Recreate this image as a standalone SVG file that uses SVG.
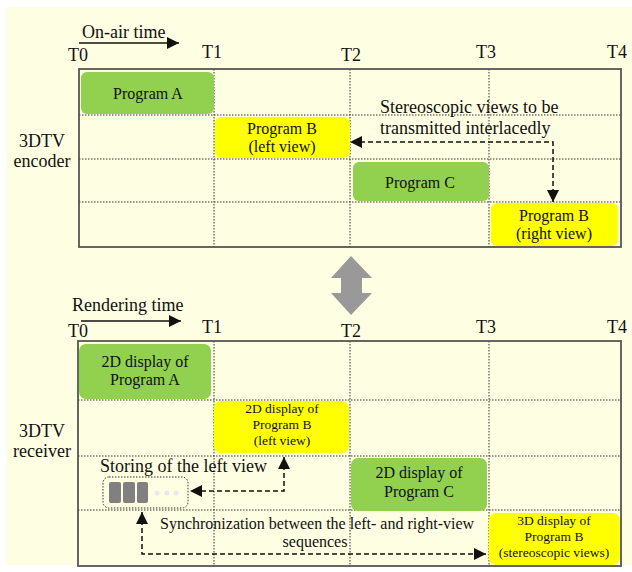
<svg xmlns="http://www.w3.org/2000/svg" width="632" height="572" viewBox="0 0 632 572">
<style>
text{font-family:'Liberation Serif','Times New Roman',serif;fill:#111;}
.t18{font-size:18px;}
.t16{font-size:16px;}
.t13{font-size:13.5px;}
.c{text-anchor:middle;}
.frame{fill:none;stroke:#555;stroke-width:1.8;}
.grid{stroke:#333;stroke-width:1;stroke-dasharray:1.5 1.5;fill:none;}
.green{fill:#92D050;}
.yellow{fill:#FFFF00;}
.dash{fill:none;stroke:#111;stroke-width:1.5;stroke-dasharray:5 3;}
.solid{fill:none;stroke:#111;stroke-width:1.5;}
</style>
<defs>
<marker id="ah" viewBox="0 0 10 10" refX="10" refY="5" markerWidth="12" markerHeight="12" markerUnits="userSpaceOnUse" orient="auto-start-reverse">
<path d="M0,0 L10,5 L0,10 Z" fill="#111"/>
</marker>
<marker id="ahbig" viewBox="0 0 10 10" refX="10" refY="5" markerWidth="14" markerHeight="12" markerUnits="userSpaceOnUse" orient="auto">
<path d="M0,0 L10,5 L0,10 Z" fill="#111"/>
</marker>
</defs>
<rect x="6" y="7" width="626" height="558" fill="#FEFEE2"/>

<!-- top panel -->
<g id="top-axis">
<text class="t18" x="82" y="38">On-air time</text>
<line class="solid" x1="79" y1="43" x2="179" y2="43" marker-end="url(#ahbig)"/>
<text class="t18 c" x="78" y="61">T0</text>
<text class="t18 c" x="212" y="58">T1</text>
<text class="t18 c" x="351" y="61">T2</text>
<text class="t18 c" x="486" y="58">T3</text>
<text class="t18 c" x="617" y="58">T4</text>
</g>
<g id="top-grid">
<line class="grid" x1="79" y1="115" x2="621" y2="115"/>
<line class="grid" x1="79" y1="159" x2="621" y2="159"/>
<line class="grid" x1="79" y1="202" x2="621" y2="202"/>
<line class="grid" x1="214" y1="69" x2="214" y2="247"/>
<line class="grid" x1="350" y1="69" x2="350" y2="247"/>
<line class="grid" x1="489" y1="69" x2="489" y2="247"/>
<rect class="frame" x="79" y="69" width="542" height="178"/>
</g>
<g id="encoder-label">
<text class="t18 c" x="42" y="147">3DTV</text>
<text class="t18 c" x="42" y="167">encoder</text>
</g>
<g id="programA">
<rect class="green" x="81" y="72" width="133" height="42" rx="6"/>
<text class="t16 c" x="148" y="99">Program A</text>
</g>
<g id="programB-left">
<rect class="yellow" x="215" y="117" width="135" height="41" rx="6"/>
<text class="t16 c" x="282" y="134">Program B</text>
<text class="t16 c" x="282" y="152">(left view)</text>
</g>
<g id="programC">
<rect class="green" x="353" y="162" width="136" height="39" rx="6"/>
<text class="t16 c" x="420" y="188">Program C</text>
</g>
<g id="programB-right">
<rect class="yellow" x="491" y="203" width="127" height="43" rx="6"/>
<text class="t16 c" x="554" y="221">Program B</text>
<text class="t16 c" x="554" y="239">(right view)</text>
</g>
<g id="stereo-label">
<text class="t18" x="380" y="113">Stereoscopic views to be</text>
<text class="t18" x="380" y="134">transmitted interlacedly</text>
</g>

<!-- bottom panel -->
<g id="bottom-axis">
<text class="t18" x="72" y="311">Rendering time</text>
<line class="solid" x1="81" y1="321" x2="181" y2="321" marker-end="url(#ahbig)"/>
<text class="t18 c" x="78" y="337">T0</text>
<text class="t18 c" x="212" y="333">T1</text>
<text class="t18 c" x="351" y="337">T2</text>
<text class="t18 c" x="486" y="333">T3</text>
<text class="t18 c" x="617" y="333">T4</text>
</g>
<g id="bottom-grid">
<line class="grid" x1="78" y1="400" x2="621" y2="400"/>
<line class="grid" x1="78" y1="456" x2="621" y2="456"/>
<line class="grid" x1="78" y1="510" x2="621" y2="510"/>
<line class="grid" x1="214" y1="341" x2="214" y2="566"/>
<line class="grid" x1="350" y1="341" x2="350" y2="566"/>
<line class="grid" x1="489" y1="341" x2="489" y2="566"/>
<rect class="frame" x="78" y="341" width="543" height="225"/>
</g>
<g id="receiver-label">
<text class="t18 c" x="42" y="437">3DTV</text>
<text class="t18 c" x="42" y="457">receiver</text>
</g>
<g id="display-A">
<rect class="green" x="79" y="344" width="132" height="55" rx="7"/>
<text class="t16 c" x="145" y="367">2D display of</text>
<text class="t16 c" x="145" y="385">Program A</text>
</g>
<g id="display-B-left">
<rect class="yellow" x="214" y="401" width="135" height="52" rx="7"/>
<text class="t13 c" x="282" y="413">2D display of</text>
<text class="t13 c" x="282" y="429">Program B</text>
<text class="t13 c" x="282" y="445">(left view)</text>
</g>
<g id="display-C">
<rect class="green" x="351" y="458" width="136" height="53" rx="7"/>
<text class="t16 c" x="419" y="478">2D display of</text>
<text class="t16 c" x="419" y="497">Program C</text>
</g>
<g id="display-B-3d">
<rect class="yellow" x="489" y="513" width="131" height="52" rx="7"/>
<text class="t13 c" x="554" y="525">3D display of</text>
<text class="t13 c" x="554" y="541">Program B</text>
<text class="t13 c" x="554" y="557">(stereoscopic views)</text>
</g>
<g id="storage">
<text class="t18" x="100" y="472">Storing of the left view</text>
<rect x="103" y="477" width="85" height="31" rx="6" fill="none" stroke="#333" stroke-width="1" stroke-dasharray="1.5 1.5"/>
<rect x="109" y="482" width="12" height="21" rx="2" fill="#808080"/>
<rect x="123" y="482" width="12" height="21" rx="2" fill="#808080"/>
<rect x="137" y="482" width="11" height="21" rx="2" fill="#808080"/>
<circle cx="157" cy="493" r="2.5" fill="#E8E8EE"/>
<circle cx="167" cy="493" r="2.5" fill="#E8E8EE"/>
<circle cx="176" cy="493" r="2.5" fill="#E8E8EE"/>
</g>
<g id="sync-label">
<text class="t16" x="160" y="529">Synchronization between the left- and right-view</text>
<text class="t16 c" x="315" y="547">sequences</text>
</g>

<!-- gray double arrow -->
<g id="transfer-arrow">
<path d="M351,256 L372,278 L362,278 L362,293 L372,293 L351,315 L331,293 L341,293 L341,278 L331,278 Z" fill="#999999"/>
</g>

<g id="connectors">
<path class="dash" d="M553,202 L553,142 L350,142" marker-start="url(#ah)" marker-end="url(#ah)"/>
<path class="dash" d="M284,457 L284,491 L190,491" marker-start="url(#ah)" marker-end="url(#ah)"/>
<path class="dash" d="M142,512 L142,554 L486,554" marker-start="url(#ah)" marker-end="url(#ah)"/>
</g>
</svg>
